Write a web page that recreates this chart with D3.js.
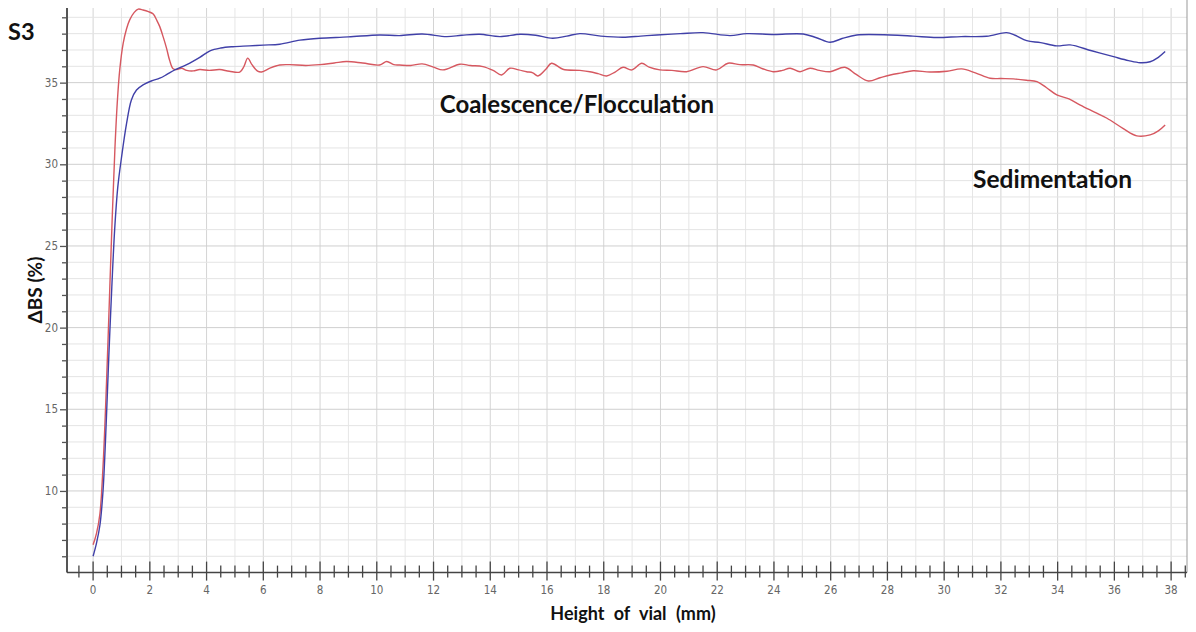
<!DOCTYPE html>
<html>
<head>
<meta charset="utf-8">
<script src="https://cdn.jsdelivr.net/npm/d3@7"></script>
<style>
  body { margin: 0; background: #fff; }
  .tick-label { font-family: "Liberation Sans Narrow", "DejaVu Sans Condensed", sans-serif; font-size: 11.5px; fill: #666; }
  .title { font-family: Lato, "Open Sans", sans-serif; font-weight: bold; fill: #111; }
</style>
</head>
<body>
<div id="chart"></div>
<script>
// curva vermelha (mm, %)
var redCurve = [
  [0.0, 6.7], [0.12, 7.4], [0.24, 8.6], [0.35, 11.5], [0.47, 16.5], [0.59, 22.5], [0.68, 27], [0.77, 31],
  [0.86, 34], [0.94, 35.8], [1.06, 37.4], [1.18, 38.3], [1.29, 38.84], [1.45, 39.3], [1.59, 39.5],
  [1.76, 39.45], [1.95, 39.35], [2.12, 39.2], [2.25, 38.8], [2.35, 38.43], [2.47, 37.8], [2.59, 37.1],
  [2.7, 36.35], [2.82, 35.85], [2.95, 35.8], [3.12, 35.88], [3.3, 35.75], [3.53, 35.72], [3.76, 35.8],
  [4.1, 35.75], [4.46, 35.8], [4.8, 35.7], [5.17, 35.65], [5.32, 36.0], [5.45, 36.5], [5.6, 36.1],
  [5.8, 35.7], [5.94, 35.65], [6.25, 35.9], [6.58, 36.08], [6.93, 36.1], [7.5, 36.05], [8.0, 36.1],
  [8.5, 36.2], [8.93, 36.29], [9.5, 36.2], [10.1, 36.08], [10.35, 36.29], [10.6, 36.1], [10.8, 36.08],
  [11.2, 36.05], [11.6, 36.15], [12.0, 35.95], [12.33, 35.78], [12.93, 36.13], [13.3, 36.05],
  [13.74, 35.98], [14.1, 35.75], [14.4, 35.47], [14.69, 35.88], [15.0, 35.78], [15.28, 35.67],
  [15.5, 35.6], [15.68, 35.41], [15.95, 35.8], [16.16, 36.19], [16.56, 35.82], [17.16, 35.75],
  [17.51, 35.67], [17.8, 35.55], [18.1, 35.41], [18.4, 35.65], [18.68, 35.94], [18.99, 35.78],
  [19.34, 36.19], [19.6, 35.95], [19.98, 35.78], [20.4, 35.75], [20.92, 35.67], [21.5, 35.98],
  [21.98, 35.78], [22.38, 36.19], [22.8, 36.1], [23.27, 36.08], [23.6, 35.85], [23.97, 35.67],
  [24.3, 35.75], [24.57, 35.88], [24.92, 35.67], [25.27, 35.88], [25.6, 35.75], [25.98, 35.67],
  [26.5, 35.94], [26.9, 35.5], [27.33, 35.1], [27.74, 35.3], [28.1, 35.47], [28.5, 35.6], [28.91, 35.73],
  [29.5, 35.65], [30.1, 35.7], [30.62, 35.84], [31.1, 35.6], [31.62, 35.27], [32.0, 35.25], [32.44, 35.23],
  [32.9, 35.15], [33.27, 35.06], [33.6, 34.7], [33.97, 34.25], [34.4, 34.0], [34.8, 33.63], [35.3, 33.2],
  [35.74, 32.82], [36.3, 32.2], [36.79, 31.74], [37.26, 31.8], [37.55, 32.05], [37.79, 32.41]
];

// curva azul
var blueCurve = [
  [0.0, 6.0], [0.12, 6.8], [0.24, 7.9], [0.35, 10.0], [0.47, 14.5], [0.56, 18.5], [0.66, 22.5],
  [0.76, 26.0], [0.87, 28.6], [1.0, 30.4], [1.18, 32.5], [1.35, 33.94], [1.53, 34.55], [1.76, 34.86],
  [2.05, 35.1], [2.35, 35.27], [2.6, 35.5], [2.88, 35.78], [3.3, 36.1], [3.76, 36.55], [4.12, 36.95],
  [4.5, 37.12], [4.93, 37.2], [5.5, 37.25], [6.0, 37.3], [6.58, 37.35], [7.29, 37.6], [7.99, 37.72],
  [9.0, 37.8], [10.1, 37.92], [10.8, 37.88], [11.6, 37.98], [12.46, 37.82], [13.0, 37.9], [13.63, 37.96],
  [14.34, 37.82], [15.05, 37.96], [15.6, 37.9], [16.2, 37.72], [16.7, 37.85], [17.16, 38.0], [17.9, 37.85],
  [18.68, 37.78], [19.3, 37.85], [19.87, 37.92], [20.7, 38.0], [21.5, 38.06], [22.45, 37.88], [23.04, 38.0],
  [24.0, 37.95], [25.03, 37.98], [25.5, 37.75], [25.98, 37.47], [26.4, 37.7], [26.92, 37.92], [28.1, 37.92],
  [28.9, 37.85], [29.74, 37.76], [30.6, 37.82], [31.5, 37.84], [32.2, 38.06], [32.5, 37.9], [32.91, 37.57],
  [33.4, 37.45], [33.97, 37.25], [34.44, 37.31], [35.2, 36.95], [35.97, 36.59], [36.5, 36.35],
  [36.91, 36.22], [37.26, 36.28], [37.55, 36.55], [37.79, 36.9]
];

var xTickLabels = d3.range(0, 39, 2);
var yTickLabels = [10, 15, 20, 25, 30, 35];
var annotations = [
  { text: "Coalescence/Flocculation", x: 12.22, y: 33.15, size: 24 },
  { text: "Sedimentation", x: 31.02, y: 28.55, size: 24.5 }
];

!function() {
  var W = 1196, H = 632;
  var left = 67, right = 1187, top = 8, bottom = 572.6;

  var fx = d3.scaleLinear().domain([-0.92, 38.56]).range([left, right]);
  var fy = d3.scaleLinear().domain([5, 39.57]).range([bottom, top]);

  var svg = d3.select("#chart").append("svg")
      .attr("width", W)
      .attr("height", H);

  // grade
  var grid = svg.append("g");
  grid.selectAll("line.v")
    .data(d3.range(0, 39)).enter()
    .append("line")
      .attr("x1", function(d) { return fx(d); })
      .attr("x2", function(d) { return fx(d); })
      .attr("y1", top).attr("y2", bottom)
      .attr("stroke", function(d) { return d % 2 == 0 ? "#d4d4d4" : "#e6e6e6"; })
      .attr("stroke-width", 1);
  grid.selectAll("line.h")
    .data(d3.range(6, 40)).enter()
    .append("line")
      .attr("x1", left).attr("x2", right)
      .attr("y1", function(d) { return fy(d); })
      .attr("y2", function(d) { return fy(d); })
      .attr("stroke", function(d) { return d % 5 == 0 ? "#cfcfcf" : "#e4e4e4"; })
      .attr("stroke-width", 1);

  // borda direita
  svg.append("line")
    .attr("x1", right).attr("x2", right)
    .attr("y1", 0).attr("y2", bottom)
    .attr("stroke", "#999").attr("stroke-width", 1);

  // eixo y
  var yAxis = d3.axisLeft(fy)
      .tickValues(d3.range(6, 40))
      .tickSize(5)
      .tickFormat("");
  var gy = svg.append("g")
      .attr("transform", "translate(" + left + ",0)")
      .call(yAxis);
  gy.select(".domain").attr("stroke", "#555").attr("stroke-width", 2)
    .attr("d", "M0," + top + "V" + bottom);
  gy.selectAll(".tick line").attr("stroke", "#555").attr("stroke-width", 1.3);
  gy.selectAll(".tick")
    .filter(function(d) { return yTickLabels.indexOf(d) >= 0; })
    .select("line").attr("x2", -7);

  gy.selectAll("text.lbl")
    .data(yTickLabels).enter()
    .append("text")
      .attr("class", "tick-label")
      .attr("x", -9)
      .attr("y", function(d) { return fy(d); })
      .attr("dy", ".35em")
      .style("text-anchor", "end")
      .text(function(d) { return d; });

  // eixo x
  var halfTicks = d3.range(-0.5, 38.6, 0.5);
  var gx = svg.append("g")
      .attr("transform", "translate(0," + bottom + ")");
  gx.append("line")
    .attr("x1", left).attr("x2", right)
    .attr("stroke", "#444").attr("stroke-width", 1.5);
  gx.selectAll("line.t")
    .data(halfTicks).enter()
    .append("line")
      .attr("x1", function(d) { return fx(d); })
      .attr("x2", function(d) { return fx(d); })
      .attr("y1", function(d) { return Math.abs(d % 2) < 1e-9 ? -11 : -7; })
      .attr("y2", function(d) { return Math.abs(d % 2) < 1e-9 ? 8 : 5; })
      .attr("stroke", "#444").attr("stroke-width", 1.3);
  gx.selectAll("text")
    .data(xTickLabels).enter()
    .append("text")
      .attr("class", "tick-label")
      .attr("x", function(d) { return fx(d); })
      .attr("y", 21)
      .style("text-anchor", "middle")
      .text(function(d) { return d; });

  // curvas
  var line = d3.line()
      .x(function(d) { return fx(d[0]); })
      .y(function(d) { return fy(d[1]); })
      .curve(d3.curveCatmullRom.alpha(0.5));

  svg.append("path")
    .datum(redCurve)
    .attr("d", line)
    .attr("fill", "none")
    .attr("stroke", "#d65860")
    .attr("stroke-width", 1.4);
  svg.append("path")
    .datum(blueCurve)
    .attr("d", line)
    .attr("fill", "none")
    .attr("stroke", "#4040a8")
    .attr("stroke-width", 1.4);

  // textos
  svg.append("text")
    .attr("class", "title")
    .attr("x", 8).attr("y", 40)
    .style("font-size", "23.5px")
    .text("S3");

  svg.selectAll("text.ann")
    .data(annotations).enter()
    .append("text")
      .attr("class", "title")
      .attr("x", function(d) { return fx(d.x); })
      .attr("y", function(d) { return fy(d.y); })
      .style("font-size", function(d) { return d.size + "px"; })
      .text(function(d) { return d.text; });

  svg.append("text")
    .attr("class", "title")
    .attr("x", 633).attr("y", 620)
    .style("font-size", "18px")
    .style("word-spacing", "5px")
    .style("text-anchor", "middle")
    .text("Height of vial (mm)");

  svg.append("text")
    .attr("class", "title")
    .attr("transform", "translate(42,290) rotate(-90)")
    .style("font-size", "19px")
    .style("text-anchor", "middle")
    .text("ΔBS (%)");
}();
</script>
</body>
</html>
